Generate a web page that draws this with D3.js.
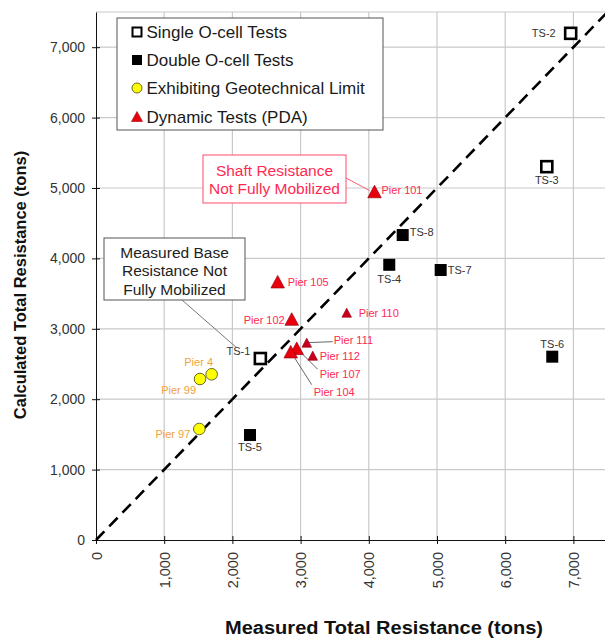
<!DOCTYPE html>
<html>
<head>
<meta charset="utf-8">
<script src="https://cdn.jsdelivr.net/npm/d3@7"></script>
<style>
  html, body { margin: 0; padding: 0; background: #fff; }
  svg { display: block; font-family: Arial, "Liberation Sans", sans-serif; }
</style>
</head>
<body>
<svg id="chart" width="605" height="639"></svg>
<script>
// ---------------- DATA ----------------
const singleNames = ["TS-1", "TS-2", "TS-3"];
const singleX = [2410, 6960, 6610];
const singleY = [2578, 7197, 5303];

const doubleNames = ["TS-4", "TS-5", "TS-6", "TS-7", "TS-8"];
const doubleX = [4300, 2258, 6690, 5054, 4497];
const doubleY = [3909, 1491, 2604, 3835, 4332];

const geoNames = ["Pier 4", "Pier 99", "Pier 97"];
const geoX = [1696, 1525, 1515];
const geoY = [2354, 2287, 1577];

const pdaNames = ["Pier 101", "Pier 105", "Pier 102", "Pier 110", "Pier 111", "Pier 112", "Pier 107", "Pier 104"];
const pdaX = [4084, 2664, 2870, 3676, 3090, 3178, 2943, 2855];
const pdaY = [4950, 3669, 3139, 3229, 2803, 2618, 2723, 2675];

const xTicks = [0, 1000, 2000, 3000, 4000, 5000, 6000, 7000];
const yTicks = [0, 1000, 2000, 3000, 4000, 5000, 6000, 7000];
const legendLabels = ["Single O-cell Tests", "Double O-cell Tests", "Exhibiting Geotechnical Limit", "Dynamic Tests (PDA)"];
const xTitle = "Measured Total Resistance (tons)";
const yTitle = "Calculated Total Resistance (tons)";
const shaftNote = ["Shaft Resistance", "Not Fully Mobilized"];
const baseNote = ["Measured Base", "Resistance Not", "Fully Mobilized"];

// ---------------- STYLE / LAYOUT ----------------
const xMin = 0, xMax = 7500, yMin = 0, yMax = 7500;
const svg = d3.select("#chart");
const x = d3.scaleLinear().domain([xMin, xMax]).range([96, 607.5]);
const y = d3.scaleLinear().domain([yMin, yMax]).range([540, 12]);
const fmt = d3.format(",");

// label placement (px offsets from marker): [dx, dy, anchor]
const labelPos = {
  "TS-1": [-10, -7, "end"], "TS-2": [-15, 0, "end"], "TS-3": [0, 13, "middle"],
  "TS-4": [0, 14, "middle"], "TS-5": [0, 12, "middle"], "TS-6": [0, -13, "middle"],
  "TS-7": [7, 0, "start"], "TS-8": [7, -3, "start"],
  "Pier 4": [-13, -12, "middle"], "Pier 99": [-4, 11, "end"], "Pier 97": [-9, 5, "end"],
  "Pier 101": [7, -1, "start"], "Pier 105": [10, 0, "start"], "Pier 102": [-7, 1, "end"],
  "Pier 110": [12, 0, "start"], "Pier 111": [27, -3, "start"], "Pier 112": [7, 0, "start"],
  "Pier 107": [23, 26, "start"], "Pier 104": [23, 40, "start"]
};
const leaders = { "Pier 111": [26, -1], "Pier 107": [21, 21], "Pier 104": [21, 33] };
const smallTri = new Set(["Pier 110", "Pier 111", "Pier 112"]);

const gridColor = "#c9c9c9";
const pierColor = "#ff2a52";
const geoLabelColor = "#f2a23a";

// ---------------- GRID ----------------
const grid = svg.append("g");
grid.selectAll(".gx").data(xTicks.filter(t => t > 0).concat([xMax])).enter().append("line")
  .attr("x1", d => x(d)).attr("x2", d => x(d)).attr("y1", y(yMin)).attr("y2", y(yMax))
  .attr("stroke", gridColor).attr("stroke-width", 1.2);
grid.selectAll(".gy").data(yTicks.filter(t => t > 0).concat([yMax])).enter().append("line")
  .attr("y1", d => y(d)).attr("y2", d => y(d)).attr("x1", x(xMin)).attr("x2", x(xMax))
  .attr("stroke", gridColor).attr("stroke-width", 1.2);

// ---------------- AXES ----------------
const xAxis = svg.append("g").attr("transform", `translate(0,${y(0)})`)
  .call(d3.axisBottom(x).tickValues(xTicks).tickFormat(fmt).tickSizeInner(4).tickSizeOuter(0));
xAxis.select(".domain").attr("stroke", "#111");
xAxis.selectAll(".tick line").attr("y1", -4).attr("y2", 4).attr("stroke", "#111");
xAxis.selectAll(".tick text")
  .attr("transform", "rotate(-90)")
  .attr("x", -12).attr("y", 0).attr("dy", "0.35em")
  .attr("text-anchor", "end")
  .attr("font-size", 14.5).attr("fill", "#333").attr("font-family", "Arial, 'Liberation Sans', sans-serif");

const yAxis = svg.append("g").attr("transform", `translate(${x(0)},0)`)
  .call(d3.axisLeft(y).tickValues(yTicks).tickFormat(fmt).tickSizeInner(4).tickSizeOuter(0));
yAxis.select(".domain").attr("stroke", "#111");
yAxis.selectAll(".tick line").attr("x1", -4).attr("x2", 4).attr("stroke", "#111");
yAxis.selectAll(".tick text").attr("x", -11)
  .attr("font-size", 14).attr("fill", "#333").attr("font-family", "Arial, 'Liberation Sans', sans-serif");

// ---------------- 1:1 LINE ----------------
svg.append("line")
  .attr("x1", x(0)).attr("y1", y(0)).attr("x2", x(7500)).attr("y2", y(7500))
  .attr("stroke", "#000").attr("stroke-width", 2.6).attr("stroke-dasharray", "12,7");

// ---------------- ANNOTATION BOXES ----------------
const pdaIdx = pdaNames.indexOf("Pier 101");
svg.append("line").attr("x1", 346).attr("y1", 178)
  .attr("x2", x(pdaX[pdaIdx]) - 5).attr("y2", y(pdaY[pdaIdx]) - 1)
  .attr("stroke", "#ff5a78").attr("stroke-width", 1);
svg.append("rect").attr("x", 203).attr("y", 155).attr("width", 143).attr("height", 48)
  .attr("fill", "#fff").attr("stroke", "#ff4a6a").attr("stroke-width", 1);
svg.append("g").selectAll("text").data(shaftNote).enter().append("text")
  .attr("x", 274.5).attr("y", (d, i) => 171 + i * 18).attr("dy", "0.35em")
  .attr("text-anchor", "middle").attr("font-size", 15.5).attr("fill", pierColor).text(d => d);

const ts1 = singleNames.indexOf("TS-1");
svg.append("line").attr("x1", 182).attr("y1", 300)
  .attr("x2", x(singleX[ts1]) - 24).attr("y2", y(singleY[ts1]) - 11)
  .attr("stroke", "#777").attr("stroke-width", 1);
svg.append("rect").attr("x", 104).attr("y", 238).attr("width", 141).attr("height", 62)
  .attr("fill", "#fff").attr("stroke", "#555").attr("stroke-width", 1);
svg.append("g").selectAll("text").data(baseNote).enter().append("text")
  .attr("x", 174.5).attr("y", (d, i) => 252.5 + i * 18.3).attr("dy", "0.35em")
  .attr("text-anchor", "middle").attr("font-size", 15.5).attr("fill", "#222").text(d => d);

// ---------------- MARKERS ----------------
const triPath = (w, h) => `M0,${-h / 2}L${w / 2},${h / 2}L${-w / 2},${h / 2}Z`;

function addLabel(name, px, py, color) {
  const p = labelPos[name];
  svg.append("text").attr("x", px + p[0]).attr("y", py + p[1]).attr("dy", "0.35em")
    .attr("text-anchor", p[2]).attr("font-size", 11).attr("fill", color).text(name);
}

// leader lines first
pdaNames.forEach((n, i) => {
  if (leaders[n]) {
    const px = x(pdaX[i]), py = y(pdaY[i]);
    svg.append("line").attr("x1", px).attr("y1", py).attr("x2", px + leaders[n][0]).attr("y2", py + leaders[n][1])
      .attr("stroke", "#666").attr("stroke-width", 1);
  }
});

// single O-cell (open squares)
singleNames.forEach((n, i) => {
  const px = x(singleX[i]), py = y(singleY[i]);
  svg.append("rect").attr("x", px - 5.5).attr("y", py - 5.5).attr("width", 11).attr("height", 11)
    .attr("fill", "#fff").attr("stroke", "#000").attr("stroke-width", 2.6);
  addLabel(n, px, py, "#333");
});

// double O-cell (filled squares)
doubleNames.forEach((n, i) => {
  const px = x(doubleX[i]), py = y(doubleY[i]);
  svg.append("rect").attr("x", px - 6).attr("y", py - 6).attr("width", 12).attr("height", 12)
    .attr("fill", "#000");
  addLabel(n, px, py, "#333");
});

// geotechnical limit (yellow circles)
geoNames.forEach((n, i) => {
  const px = x(geoX[i]), py = y(geoY[i]);
  svg.append("circle").attr("cx", px).attr("cy", py).attr("r", 5.8)
    .attr("fill", "#ffff00").attr("stroke", "#6a6a20").attr("stroke-width", 1);
  addLabel(n, px, py, geoLabelColor);
});

// PDA (red triangles)
pdaNames.forEach((n, i) => {
  const px = x(pdaX[i]), py = y(pdaY[i]);
  const small = smallTri.has(n);
  svg.append("path").attr("transform", `translate(${px},${py})`)
    .attr("d", small ? triPath(9.5, 9) : triPath(13.5, 12.5))
    .attr("fill", small ? "#c8001e" : "#e8000c").attr("stroke", "#9a0010").attr("stroke-width", 0.7);
  addLabel(n, px, py, pierColor);
});

// ---------------- LEGEND ----------------
const lg = svg.append("g");
lg.append("rect").attr("x", 117).attr("y", 18).attr("width", 266).attr("height", 112)
  .attr("fill", "#fff").attr("stroke", "#555").attr("stroke-width", 1);
const rowY = [32, 60, 88, 116.5];
lg.append("rect").attr("x", 137 - 4.5).attr("y", rowY[0] - 4.5).attr("width", 9).attr("height", 9)
  .attr("fill", "#fff").attr("stroke", "#000").attr("stroke-width", 2);
lg.append("rect").attr("x", 137 - 5).attr("y", rowY[1] - 5).attr("width", 10).attr("height", 10).attr("fill", "#000");
lg.append("circle").attr("cx", 137).attr("cy", rowY[2]).attr("r", 5)
  .attr("fill", "#ffff00").attr("stroke", "#6a6a20").attr("stroke-width", 1);
lg.append("path").attr("transform", `translate(137,${rowY[3]})`).attr("d", triPath(11, 10))
  .attr("fill", "#e8000c").attr("stroke", "#9a0010").attr("stroke-width", 0.6);
lg.selectAll(".lt").data(legendLabels).enter().append("text")
  .attr("x", 146.5).attr("y", (d, i) => rowY[i]).attr("dy", "0.36em")
  .attr("font-size", 17).attr("fill", "#1a1a1a").text(d => d);

// ---------------- AXIS TITLES ----------------
svg.append("text").attr("x", 384).attr("y", 628).attr("dy", "0.35em")
  .attr("text-anchor", "middle").attr("font-size", 17.5).attr("font-weight", "bold").attr("fill", "#111")
  .attr("textLength", 318).attr("lengthAdjust", "spacingAndGlyphs")
  .text(xTitle);
svg.append("text").attr("transform", "translate(20,285) rotate(-90)").attr("dy", "0.35em")
  .attr("text-anchor", "middle").attr("font-size", 16.5).attr("font-weight", "bold").attr("fill", "#111")
  .text(yTitle);
</script>
</body>
</html>
